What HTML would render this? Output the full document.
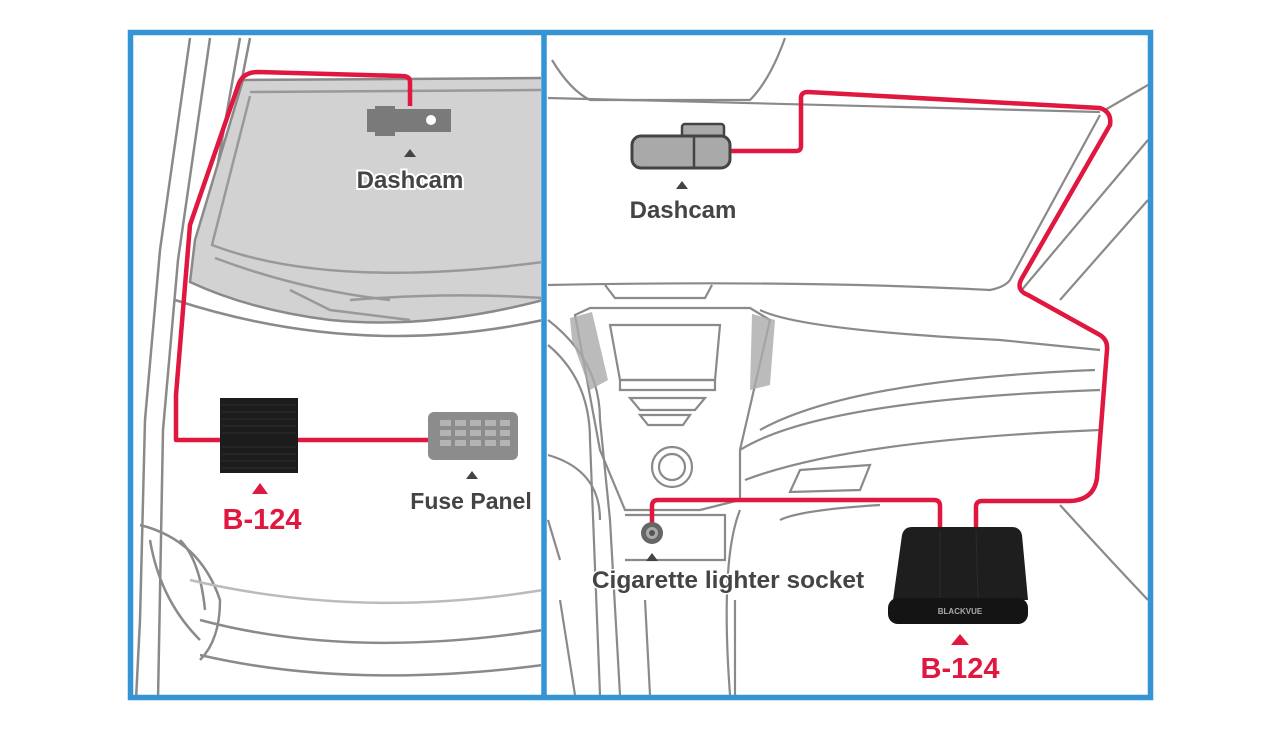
<!DOCTYPE html>
<html><head><meta charset="utf-8"><style>
html,body{margin:0;padding:0;background:#fff;}
svg{display:block;}
text{font-family:"Liberation Sans",sans-serif;font-weight:bold;}
</style></head><body>
<svg width="1279" height="729" viewBox="0 0 1279 729" xmlns="http://www.w3.org/2000/svg">
<rect width="1279" height="729" fill="#fff"/>
<defs>
<clipPath id="L"><rect x="133" y="35" width="408" height="660"/></clipPath>
<clipPath id="R"><rect x="547" y="35" width="601" height="660"/></clipPath>
</defs>

<!-- LEFT PANEL -->
<g clip-path="url(#L)" fill="none" stroke="#8a8a8a" stroke-width="2.5">
  <path d="M190 38 L160 250 L145 420 L140 620 L136 700"/>
  <path d="M210 38 L178 260 L163 430 L158 700"/>
  <path d="M240 38 L215 180"/>
  <path d="M250 38 L228 150"/>
  <path d="M243 80 L543 78 L543 300 Q430 330 330 320 Q250 310 190 282 L195 240 Z" fill="#d2d2d2" stroke="#8a8a8a"/>
  <path d="M250 92 L543 90" stroke="#999"/>
  <path d="M250 96 L212 245 Q330 290 543 262" stroke="#999"/>
  <path d="M215 258 Q300 290 390 300 M290 290 L330 310 L410 320" stroke="#999"/>
  <path d="M350 300 Q450 292 543 298" stroke="#999"/>
  <path d="M175 300 Q360 360 543 320"/>
  <path d="M150 540 Q160 600 200 640"/>
  <path d="M140 525 Q200 540 220 600 Q220 640 200 660"/>
  <path d="M180 540 Q200 560 205 610"/>
  <path d="M200 620 Q350 660 543 630"/>
  <path d="M200 655 Q350 690 543 665"/>
  <path d="M190 580 Q360 620 543 590" stroke="#bbb"/>
</g>
<g fill="none" stroke="#e0173f" stroke-width="4.5" stroke-linejoin="round">
  <path d="M410 106 L410 82 Q410 76 402 76 L258 72 Q242 72 238 86 L190 225 L176 395 L176 440 L222 440"/>
  <path d="M296 440 L430 440"/>
</g>
<rect x="375" y="106" width="20" height="30" fill="#7a7a7b"/>
<rect x="367" y="109" width="84" height="23" fill="#7a7a7b"/>
<circle cx="431" cy="120" r="5" fill="#fff"/>
<path d="M404 157 L410 149 L416 157 Z" fill="#444"/>
<text x="410" y="188" font-size="24" text-anchor="middle" fill="#444" stroke="#fff" stroke-width="4" paint-order="stroke">Dashcam</text>
<rect x="220" y="398" width="78" height="75" fill="#1c1c1c"/>
<g stroke="#2e2e2e" stroke-width="1">
<path d="M222 405 H296 M222 412 H296 M222 419 H296 M222 426 H296 M222 433 H296 M222 447 H296 M222 454 H296 M222 461 H296 M222 468 H296"/>
</g>
<path d="M252 494 L260 483 L268 494 Z" fill="#e0173f"/>
<text x="262" y="529" font-size="29" text-anchor="middle" fill="#e0173f">B-124</text>
<rect x="428" y="412" width="90" height="48" rx="6" fill="#8c8c8c"/>
<g fill="#b4b4b4">
<rect x="440" y="420" width="11" height="6"/><rect x="455" y="420" width="11" height="6"/><rect x="470" y="420" width="11" height="6"/><rect x="485" y="420" width="11" height="6"/><rect x="500" y="420" width="10" height="6"/>
<rect x="440" y="430" width="11" height="6"/><rect x="455" y="430" width="11" height="6"/><rect x="470" y="430" width="11" height="6"/><rect x="485" y="430" width="11" height="6"/><rect x="500" y="430" width="10" height="6"/>
<rect x="440" y="440" width="11" height="6"/><rect x="455" y="440" width="11" height="6"/><rect x="470" y="440" width="11" height="6"/><rect x="485" y="440" width="11" height="6"/><rect x="500" y="440" width="10" height="6"/>
</g>
<path d="M466 479 L472 471 L478 479 Z" fill="#444"/>
<text x="471" y="509" font-size="23" text-anchor="middle" fill="#444">Fuse Panel</text>

<!-- RIGHT PANEL -->
<g clip-path="url(#R)" fill="none" stroke="#8a8a8a" stroke-width="2.2">
  <path d="M552 60 Q570 90 590 100 L750 100 Q770 80 785 38"/>
  <path d="M548 98 L1100 112"/>
  <path d="M548 285 Q800 280 990 290 Q1005 287 1010 280 L1100 115"/>
  <path d="M1105 110 L1148 85"/>
  <path d="M1020 292 L1148 140"/>
  <path d="M1060 300 L1148 200"/>
  <path d="M605 285 L615 298 L705 298 L712 285"/>
  <path d="M575 315 L590 308 L750 308 L770 320 L740 450 L740 500 L700 510 L625 510 L600 450 Z"/>
  <path d="M610 325 L720 325 L715 380 L620 380 Z"/>
  <path d="M620 380 L715 380 L715 390 L620 390 Z"/>
  <path d="M630 398 L705 398 L695 410 L640 410 Z"/>
  <path d="M640 415 L690 415 L683 425 L648 425 Z"/>
  <circle cx="672" cy="467" r="20"/><circle cx="672" cy="467" r="13"/>
  <path d="M548 320 Q600 360 600 420 L610 520 L620 695"/>
  <path d="M548 345 Q590 380 590 440 L600 695"/>
  <path d="M740 450 Q820 400 1100 390"/>
  <path d="M760 430 Q850 380 1095 370"/>
  <path d="M745 480 Q850 440 1100 430"/>
  <path d="M760 310 Q800 330 1000 340 L1100 350"/>
  <path d="M548 455 Q600 470 600 520"/>
  <path d="M625 515 L725 515 L725 560 L625 560"/>
  <path d="M740 510 Q720 560 730 695"/>
  <path d="M1060 505 Q1110 560 1148 600"/>
  <path d="M548 520 L560 560 M560 600 L575 695"/>
  <path d="M645 600 L650 695 M735 600 L735 695"/>
  <path d="M780 520 Q800 510 880 505"/>
  <path d="M800 470 L870 465 L860 490 L790 492 Z"/>
</g>
<g fill="#aaa" opacity="0.8">
  <path d="M570 318 L592 312 L608 380 L590 390 L572 340 Z"/>
  <path d="M752 314 L775 320 L770 385 L750 390 Z"/>
</g>
<g fill="none" stroke="#e0173f" stroke-width="4.5" stroke-linejoin="round">
  <path d="M730 151 L796 151 Q801 151 801 146 L801 98 Q801 92 808 92 L1100 108 Q1112 112 1110 125 L1022 278 Q1015 290 1028 295 L1100 335 Q1108 340 1107 350 L1097 478 Q1094 500 1070 501 L982 501 Q976 501 976 507 L976 528"/>
  <path d="M940 528 L940 506 Q940 500 934 500 L658 500 Q652 500 652 506 L652 530"/>
</g>
<rect x="682" y="124" width="42" height="14" rx="3" fill="#a9a9a9" stroke="#444" stroke-width="2.5"/>
<rect x="632" y="136" width="98" height="32" rx="9" fill="#a9a9a9" stroke="#444" stroke-width="3"/>
<path d="M694 137 L694 167" stroke="#444" stroke-width="2.5"/>
<path d="M676 189 L682 181 L688 189 Z" fill="#444"/>
<text x="683" y="218" font-size="24" text-anchor="middle" fill="#444">Dashcam</text>
<circle cx="652" cy="533" r="11" fill="#666"/><circle cx="652" cy="533" r="6" fill="#aaa"/><circle cx="652" cy="533" r="3" fill="#555"/>
<path d="M646 561 L652 553 L658 561 Z" fill="#444"/>
<text x="728" y="588" font-size="24.5" text-anchor="middle" fill="#444" stroke="#fff" stroke-width="3" paint-order="stroke">Cigarette lighter socket</text>
<path d="M912 527 L1012 527 Q1020 527 1022 535 L1028 600 L893 600 L902 535 Q904 527 912 527 Z" fill="#1e1e1e"/>
<rect x="888" y="598" width="140" height="26" rx="10" fill="#141414"/>
<path d="M940 530 L940 598 M976 530 L978 598" stroke="#2c2c2c" stroke-width="1"/>
<text x="960" y="614" font-size="8" text-anchor="middle" fill="#aaa" font-weight="normal">BLACKVUE</text>
<path d="M951 645 L960 634 L969 645 Z" fill="#e0173f"/>
<text x="960" y="678" font-size="29" text-anchor="middle" fill="#e0173f">B-124</text>

<g fill="none" stroke="#3594d4" stroke-width="5.5">
  <rect x="130.5" y="32.5" width="1020" height="665"/>
  <path d="M544 32 L544 698"/>
</g>
</svg>
</body></html>
